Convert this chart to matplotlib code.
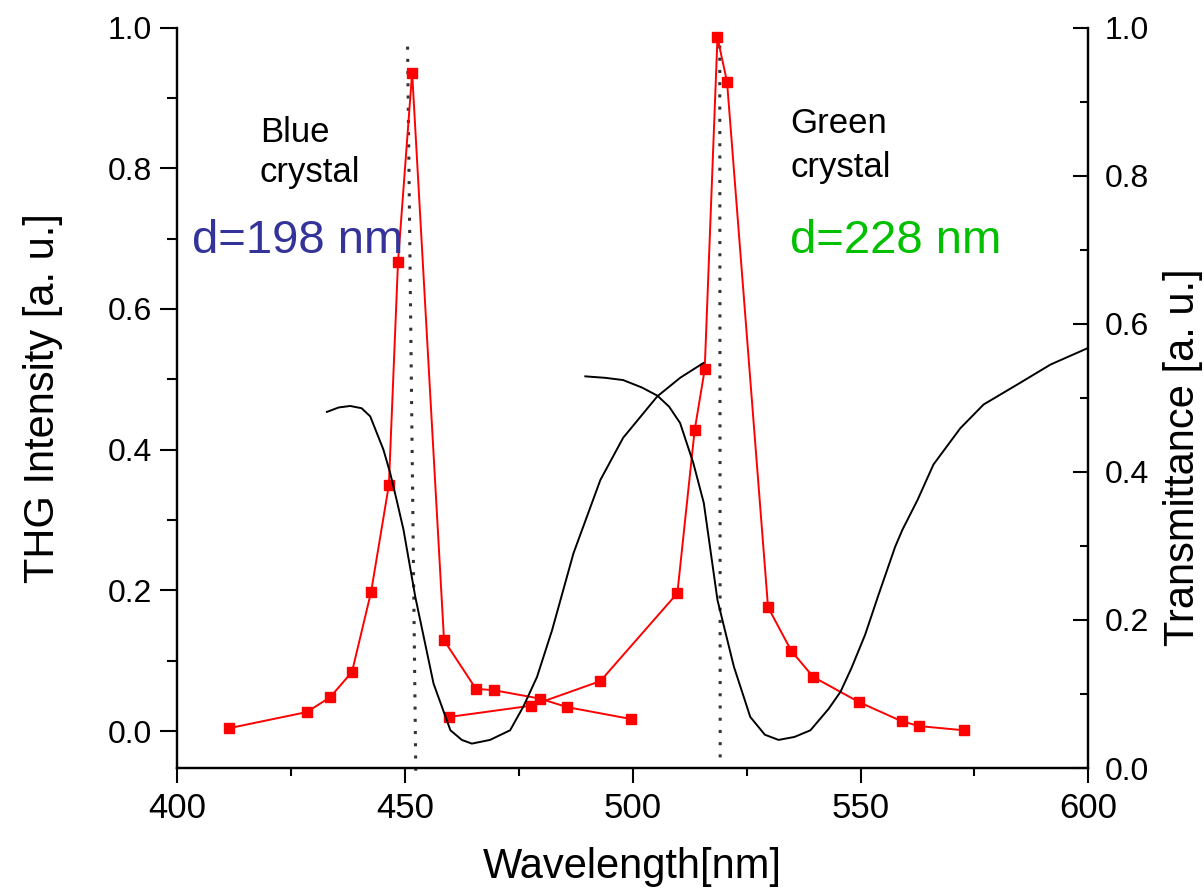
import matplotlib
matplotlib.use("Agg")
import matplotlib.pyplot as plt
from matplotlib.ticker import MultipleLocator

plt.rcParams['font.family'] = ['Liberation Sans', 'DejaVu Sans']

# THG intensity, blue crystal (left axis)
blue_wl = [411.4, 428.5, 433.6, 438.4, 442.6, 446.5, 448.5, 451.6, 458.6, 465.6, 469.6, 479.7, 485.6, 499.7]
blue_thg = [0.004, 0.027, 0.048, 0.084, 0.198, 0.350, 0.667, 0.936, 0.129, 0.060, 0.058, 0.046, 0.034, 0.017]

# THG intensity, green crystal (left axis)
green_wl = [459.7, 477.7, 492.9, 509.8, 513.6, 515.8, 518.6, 520.7, 529.7, 534.8, 539.6, 549.7, 559.0, 562.9, 572.8]
green_thg = [0.020, 0.036, 0.071, 0.196, 0.428, 0.514, 0.986, 0.923, 0.176, 0.114, 0.077, 0.041, 0.014, 0.007, 0.001]

# transmittance curves (right axis)
blue_tr_wl = [432.9, 435.5, 438.0, 440.5, 442.4, 445.3, 446.8, 448.2, 449.7, 452.3, 456.3, 460.0, 462.5,
              464.7, 468.7, 473.1, 476.0, 479.0, 482.3, 487.0, 492.9, 497.9, 505.4, 510.4, 515.5]
blue_tr = [0.481, 0.487, 0.489, 0.486, 0.475, 0.430, 0.398, 0.362, 0.322, 0.231, 0.114, 0.051, 0.038,
           0.033, 0.038, 0.051, 0.083, 0.123, 0.186, 0.290, 0.389, 0.446, 0.502, 0.527, 0.547]

green_tr_wl = [489.6, 494.0, 497.9, 502.0, 505.4, 508.0, 510.4, 513.3, 515.6, 518.6, 522.2, 525.8, 529.0,
               532.0, 535.5, 539.0, 543.0, 545.6, 548.0, 551.0, 554.0, 557.6, 559.2, 562.5, 566.0,
               571.9, 577.0, 584.4, 591.7, 599.8]
green_tr = [0.529, 0.527, 0.524, 0.514, 0.503, 0.488, 0.466, 0.412, 0.358, 0.227, 0.137, 0.069, 0.045,
            0.038, 0.042, 0.051, 0.080, 0.103, 0.135, 0.180, 0.235, 0.299, 0.322, 0.362, 0.410,
            0.459, 0.491, 0.518, 0.545, 0.567]

# peak markers (dotted lines)
peak_blue_wl = [450.6, 452.4]
peak_green_wl = [519.1, 519.2]
peak_blue_y = [0.973, -0.058]
peak_green_y = [0.992, -0.039]

fig = plt.figure(figsize=(12.04, 8.91), dpi=100)
ax = fig.add_axes([0.147, 0.138, 0.757, 0.831])
ax2 = ax.twinx()

ax.plot(peak_blue_wl, peak_blue_y, linestyle=(0, (1, 3)), color='#333333', lw=2.2, clip_on=False)
ax.plot(peak_green_wl, peak_green_y, linestyle=(0, (1, 3)), color='#333333', lw=2.2, clip_on=False)

ax.plot(blue_wl, blue_thg, color='red', lw=1.4, marker='s', ms=6.5, mec='red', mfc='red')
ax.plot(green_wl, green_thg, color='red', lw=1.4, marker='s', ms=6.5, mec='red', mfc='red')

ax2.plot(blue_tr_wl, blue_tr, color='black', lw=1.4)
ax2.plot(green_tr_wl, green_tr, color='black', lw=1.4)

ax.set_xlim(400, 600)
ax.set_ylim(-0.0526, 1.0)
ax2.set_ylim(0, 1.0)

for a in (ax, ax2):
    a.spines['top'].set_visible(False)
    for s in a.spines.values():
        s.set_linewidth(1.6)

ax.xaxis.set_major_locator(MultipleLocator(50))
ax.xaxis.set_minor_locator(MultipleLocator(25))
ax.yaxis.set_major_locator(MultipleLocator(0.2))
ax.yaxis.set_minor_locator(MultipleLocator(0.1))
ax2.yaxis.set_major_locator(MultipleLocator(0.2))
ax2.yaxis.set_minor_locator(MultipleLocator(0.1))
ax.yaxis.set_major_formatter(plt.FormatStrFormatter('%.1f'))
ax2.yaxis.set_major_formatter(plt.FormatStrFormatter('%.1f'))

ax.tick_params(axis='x', which='major', direction='out', length=11, width=1.5, labelsize=25, pad=6)
ax.tick_params(axis='x', which='minor', direction='out', length=6, width=1.5)
ax.tick_params(axis='y', which='major', direction='out', length=12, width=1.5, labelsize=23, pad=6)
ax.tick_params(axis='y', which='minor', direction='out', length=7, width=1.5)
ax2.tick_params(axis='y', which='major', direction='in', length=11, width=1.5, labelsize=23, pad=12)
ax2.tick_params(axis='y', which='minor', direction='in', length=6, width=1.5)

ax.set_xlabel('Wavelength[nm]', fontsize=30, labelpad=16)
ax.set_ylabel('THG Intensity [a. u.]', fontsize=30, labelpad=32)
ax2.set_ylabel('Transmittance [a. u.]', fontsize=30)
ax2.yaxis.set_label_coords(1.082, 0.42)

ax.text(418.2, 0.838, 'Blue', fontsize=25, color='black')
ax.text(418.2, 0.781, 'crystal', fontsize=25, color='black')
ax.text(403.3, 0.680, 'd=198 nm', fontsize=34, color='#333399')
ax.text(534.6, 0.850, 'Green', fontsize=25, color='black')
ax.text(534.6, 0.787, 'crystal', fontsize=25, color='black')
ax.text(534.6, 0.680, 'd=228 nm', fontsize=34, color='#00c000')

fig.savefig('out.png', dpi=100)
